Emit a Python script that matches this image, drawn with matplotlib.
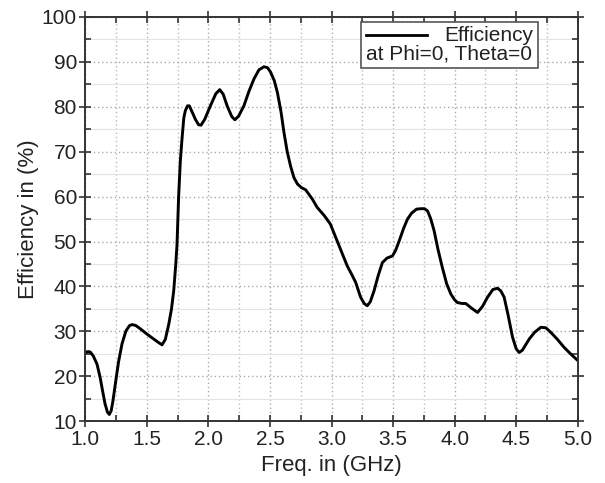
import numpy as np
import matplotlib.pyplot as plt
from matplotlib.lines import Line2D
from matplotlib.offsetbox import AnchoredOffsetbox, DrawingArea, TextArea, HPacker, VPacker
from matplotlib.ticker import MultipleLocator

plt.rcParams['font.family'] = ['Liberation Sans', 'DejaVu Sans']

# Werte
freq_ghz = [1.00, 1.02, 1.04, 1.065, 1.095, 1.12, 1.14, 1.16, 1.18, 1.195, 1.21,
            1.225, 1.244, 1.27, 1.298, 1.33, 1.36, 1.38, 1.41, 1.45, 1.50, 1.55,
            1.59, 1.623, 1.65, 1.678, 1.70, 1.718, 1.735, 1.745, 1.758, 1.772,
            1.785, 1.80, 1.812, 1.83, 1.845, 1.865, 1.894, 1.92, 1.94, 1.97,
            2.016, 2.06, 2.092, 2.12, 2.152, 2.19, 2.215, 2.245, 2.288, 2.33,
            2.37, 2.41, 2.451, 2.48, 2.505, 2.535, 2.56, 2.59, 2.614, 2.64,
            2.668, 2.695, 2.723, 2.755, 2.79, 2.845, 2.883, 2.94, 2.99, 3.046,
            3.09, 3.127, 3.165, 3.196, 3.236, 3.265, 3.29, 3.315, 3.345, 3.38,
            3.413, 3.45, 3.495, 3.52, 3.549, 3.585, 3.617, 3.65, 3.69, 3.725,
            3.755, 3.78, 3.805, 3.833, 3.865, 3.90, 3.935, 3.969, 4.00, 4.023,
            4.06, 4.09, 4.14, 4.186, 4.225, 4.267, 4.31, 4.348, 4.375, 4.402,
            4.435, 4.47, 4.50, 4.524, 4.55, 4.606, 4.65, 4.70, 4.74, 4.78,
            4.835, 4.89, 4.945, 5.00]
efficiency = [25.2, 25.5, 25.4, 24.5, 22.7, 19.8, 16.8, 13.9, 12.0, 11.5, 12.3,
              14.6, 18.3, 23.2, 27.2, 30.1, 31.3, 31.5, 31.3, 30.5, 29.4, 28.4,
              27.6, 27.0, 28.2, 31.6, 35.0, 39.0, 45.0, 49.4, 60.0, 68.0,
              72.7, 77.5, 79.1, 80.2, 80.2, 79.0, 77.2, 76.0, 75.9, 77.2,
              80.2, 82.9, 83.8, 82.8, 80.2, 77.8, 77.1, 77.9, 80.2, 83.5,
              86.2, 88.2, 88.9, 88.7, 87.7, 85.8, 83.2, 78.8, 74.2, 70.0,
              66.7, 64.2, 62.8, 62.0, 61.5, 59.4, 57.6, 55.8, 53.9, 50.1,
              47.1, 44.6, 42.6, 40.9, 37.6, 36.2, 35.7, 36.6, 39.0, 42.5,
              45.3, 46.3, 46.8, 48.0, 50.1, 52.9, 55.0, 56.3, 57.2, 57.3,
              57.3, 56.8, 55.1, 52.4, 48.2, 44.2, 40.6, 38.3, 37.0, 36.4,
              36.2, 36.2, 35.1, 34.2, 35.5, 37.6, 39.3, 39.6, 39.0, 37.6,
              33.5, 28.7, 26.1, 25.3, 25.8, 28.3, 29.8, 30.9, 30.8, 29.8,
              28.2, 26.4, 24.9, 23.5]

fig = plt.figure(figsize=(6.05, 4.83), dpi=100)
ax = fig.add_axes([0.141, 0.128, 0.814, 0.837])

ax.plot(freq_ghz, efficiency, color='black', lw=2.1, solid_joinstyle='round')

ax.set_xlim(1.0, 5.0)
ax.set_ylim(10, 100)
ax.xaxis.set_major_locator(MultipleLocator(0.5))
ax.xaxis.set_minor_locator(MultipleLocator(0.25))
ax.yaxis.set_major_locator(MultipleLocator(10))
ax.yaxis.set_minor_locator(MultipleLocator(5))
ax.xaxis.set_major_formatter(plt.FormatStrFormatter('%.1f'))

# Gitter
ax.grid(which='major', axis='both', color='#aaaaaa', ls=(0, (1, 2)), lw=1)
ax.grid(which='minor', axis='x', color='#bbbbbb', ls=(0, (1, 2)), lw=1)
ax.grid(which='minor', axis='y', color='#e3e3e3', ls='-', lw=0.8)
ax.set_axisbelow(True)

for s in ax.spines.values():
    s.set_color('#333333')
    s.set_linewidth(1.4)
ax.tick_params(which='major', direction='inout', length=8, width=1.2, color='#333333',
               top=True, right=True, labelsize=15, labelcolor='#222222', pad=2)
ax.tick_params(which='minor', direction='in', length=4, width=1.2, color='#333333',
               top=True, right=True)

ax.set_xlabel('Freq. in (GHz)', fontsize=16, color='#222222', labelpad=5)
ax.set_ylabel('Efficiency in (%)', fontsize=16, color='#222222', labelpad=2)

# Legende: Linie + "Efficiency", darunter zweite Zeile
da = DrawingArea(44, 10)
da.add_artist(Line2D([0, 44], [5, 5], color='black', lw=2))
row1 = HPacker(children=[da, TextArea('Efficiency', textprops=dict(fontsize=15, color='#222222'))],
               align='center', pad=0, sep=13)
row2 = TextArea('at Phi=0, Theta=0', textprops=dict(fontsize=15, color='#222222'))
box = VPacker(children=[row1, row2], align='left', pad=0, sep=0)
leg = AnchoredOffsetbox(loc='upper right', child=box, pad=0.3, borderpad=0, frameon=True,
                        bbox_to_anchor=(0.919, 0.988), bbox_transform=ax.transAxes)
leg.patch.set_edgecolor('#555555')
leg.patch.set_linewidth(1.2)
leg.patch.set_boxstyle('square', pad=0)
ax.add_artist(leg)

fig.savefig('out.png', dpi=100)
